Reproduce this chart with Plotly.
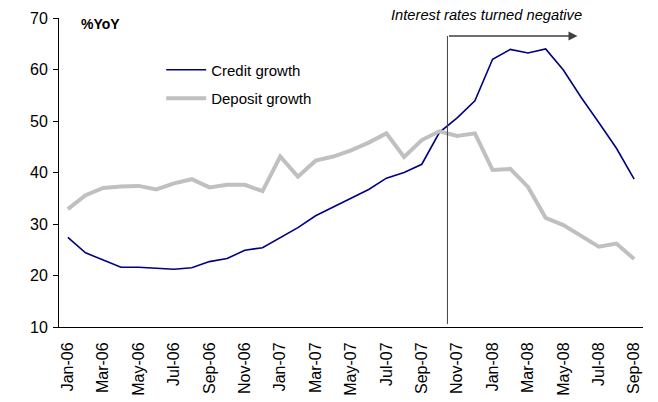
import plotly.graph_objects as go

months = ["Jan-06","Feb-06","Mar-06","Apr-06","May-06","Jun-06","Jul-06","Aug-06","Sep-06","Oct-06","Nov-06","Dec-06",
          "Jan-07","Feb-07","Mar-07","Apr-07","May-07","Jun-07","Jul-07","Aug-07","Sep-07","Oct-07","Nov-07","Dec-07",
          "Jan-08","Feb-08","Mar-08","Apr-08","May-08","Jun-08","Jul-08","Aug-08","Sep-08"]

credit_growth = [27.4, 24.4, 23.0, 21.6, 21.6, 21.4, 21.2, 21.5, 22.7, 23.3, 24.9, 25.4,
                 27.4, 29.3, 31.6, 33.3, 35.0, 36.7, 38.9, 40.0, 41.6, 47.8, 50.6, 53.9,
                 62.0, 63.9, 63.2, 64.0, 59.9, 54.6, 49.7, 44.7, 38.7]

deposit_growth = [32.9, 35.6, 37.0, 37.3, 37.4, 36.7, 37.9, 38.7, 37.1, 37.6, 37.6, 36.4,
                  43.1, 39.2, 42.3, 43.1, 44.3, 45.8, 47.6, 43.0, 46.3, 48.0, 47.1, 47.6,
                  40.5, 40.7, 37.2, 31.2, 29.8, 27.8, 25.6, 26.2, 23.2]

tick_labels = months[::2]

FONT = "Liberation Sans, Arial, sans-serif"

fig = go.Figure()
fig.add_trace(go.Scatter(x=months, y=credit_growth, mode="lines", name="Credit growth",
                         line=dict(color="#000080", width=1.6), legendgroup="a"))
fig.add_trace(go.Scatter(x=months, y=deposit_growth, mode="lines", name="Deposit growth",
                         line=dict(color="#C0C0C0", width=4), legendgroup="b"))

# vertical marker line
fig.add_shape(type="line", xref="x", yref="y", x0=21.45, x1=21.45, y0=10.6, y1=66.5,
              line=dict(color="#404040", width=1))
# horizontal arrow
fig.add_annotation(x=28.8, y=66.5, ax=21.45, ay=66.5, xref="x", yref="y", axref="x", ayref="y",
                   text="", showarrow=True, arrowhead=2, arrowsize=1.2, arrowwidth=1.5,
                   arrowcolor="#404040")
fig.add_annotation(x=23.65, y=1.01, xref="x", yref="paper", text="<i>Interest rates turned negative</i>",
                   showarrow=False, font=dict(family=FONT, size=14.7, color="#000000"),
                   yanchor="middle")
fig.add_annotation(x=0.035, y=0.98, xref="paper", yref="paper", text="<b>%YoY</b>",
                   showarrow=False, xanchor="left", yanchor="middle",
                   font=dict(family=FONT, size=14, color="#000000"))

fig.update_layout(
    width=658, height=402,
    margin=dict(l=59, r=15, t=18, b=75),
    paper_bgcolor="white", plot_bgcolor="white",
    font=dict(family=FONT, size=14, color="#000000"),
    showlegend=True,
    legend=dict(x=0.175, y=0.885, xanchor="left", yanchor="top", bgcolor="rgba(0,0,0,0)",
                font=dict(family=FONT, size=15), tracegroupgap=6, traceorder="grouped",
                itemwidth=40),
    xaxis=dict(type="category", range=[-0.5, 32.5], tickmode="array", tickvals=tick_labels,
               ticktext=tick_labels, tickangle=-90, showgrid=False, showline=True,
               linecolor="#000000", linewidth=1, ticks="", tickfont=dict(size=16),
               ticklabelstandoff=8, automargin=False),
    yaxis=dict(range=[10, 70], dtick=10, showgrid=False, showline=True, linecolor="#000000",
               linewidth=1, ticks="outside", ticklen=5, tickcolor="#000000", zeroline=False,
               tickfont=dict(size=16), ticklabelstandoff=2, automargin=False),
)

fig.write_html("out.html")
